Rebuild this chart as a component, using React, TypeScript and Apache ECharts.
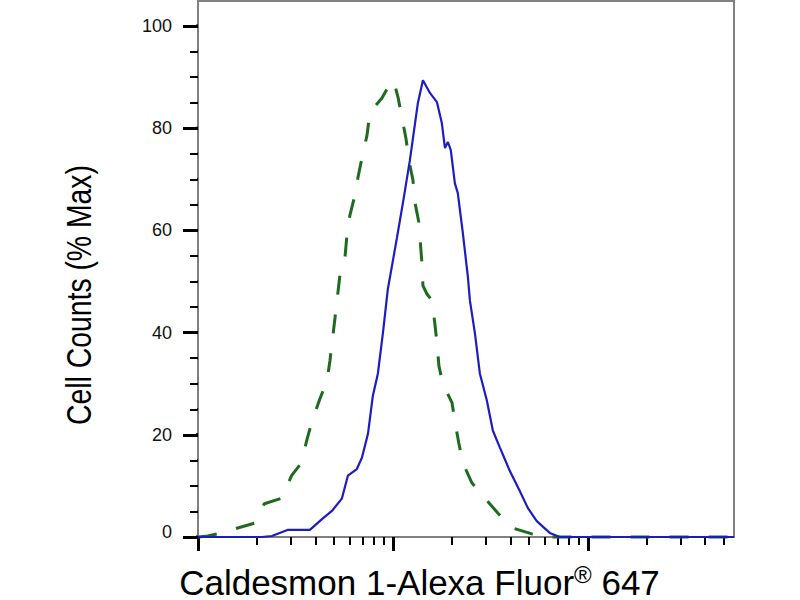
import { useEffect, useRef } from 'react';
import * as echarts from 'echarts';

// x positions are in decades (log10 of intensity), y is % of max
const greenLogX = [0, 0.05, 0.1, 0.19, 0.29, 0.34, 0.43, 0.48, 0.53, 0.56, 0.585, 0.626, 0.662, 0.677, 0.703, 0.728, 0.754, 0.764, 0.779, 0.805, 0.821, 0.846, 0.867, 0.882, 0.944, 0.995, 1.01, 1.026, 1.067, 1.082, 1.103, 1.113, 1.133, 1.149, 1.154, 1.174, 1.2, 1.215, 1.226, 1.236, 1.256, 1.303, 1.318, 1.338, 1.359, 1.405, 1.472, 1.538, 1.61, 1.713, 1.79, 2.75];
const greenCount = [0, 0.2, 0.6, 1.6, 2.7, 6.5, 7.6, 12.0, 14.5, 19.2, 22.7, 27.1, 30.6, 34.5, 42.9, 51.2, 54.7, 59.0, 62.9, 66.9, 70.4, 75.1, 78.6, 83.1, 85.9, 89.4, 88.4, 86.1, 78.0, 73.7, 69.8, 65.5, 61.6, 53.5, 49.2, 47.6, 46.3, 41.8, 38.0, 33.5, 30.0, 26.3, 22.7, 18.4, 14.5, 10.6, 7.6, 4.7, 1.8, 0.6, 0, 0];

const blueLogX = [0, 0.328, 0.379, 0.462, 0.574, 0.636, 0.687, 0.738, 0.769, 0.815, 0.841, 0.872, 0.897, 0.923, 0.949, 0.974, 1.021, 1.051, 1.087, 1.128, 1.154, 1.19, 1.226, 1.251, 1.267, 1.282, 1.297, 1.318, 1.333, 1.359, 1.385, 1.395, 1.421, 1.446, 1.482, 1.513, 1.549, 1.6, 1.651, 1.692, 1.738, 1.805, 1.856, 2.75];
const blueCount = [0, 0, 0.2, 1.4, 1.4, 3.5, 5.1, 7.5, 12.0, 13.3, 15.5, 20.2, 27.6, 32.0, 40.0, 48.5, 58.6, 65.3, 73.7, 84.9, 89.4, 86.9, 85.1, 81.0, 76.1, 77.3, 75.7, 69.2, 67.3, 59.4, 50.8, 46.3, 39.8, 32.0, 26.7, 20.8, 17.5, 12.9, 9.0, 5.7, 3.1, 0.8, 0, 0];

// tick marks: x as intensity, y as % max
const xMajorTicks = [1, 10, 100];
const xMinorTicks = [2, 3, 4, 5, 6, 7, 8, 9, 20, 30, 40, 50, 60, 70, 80, 90, 200, 300, 400, 500];
const yMajorTicks = [0, 20, 40, 60, 80, 100];
const yMinorTicks = [5, 10, 15, 25, 30, 35, 45, 50, 55, 65, 70, 75, 85, 90, 95];

const FONT = 'Liberation Sans';
const AXIS_GRAY = '#808080';

export default function App() {
  const chartRef = useRef<HTMLDivElement>(null);

  useEffect(() => {
    if (!chartRef.current) return;
    const myChart = echarts.init(chartRef.current, null, { renderer: 'svg' });

    const xMin = 0;
    const xMax = 2.75;
    const plotWidth = 536;
    const pxToDecades = (px: number) => (px * (xMax - xMin)) / plotWidth;

    const baseX = {
      type: 'value',
      min: xMin,
      max: xMax,
      position: 'bottom',
      splitLine: { show: false },
      axisLabel: { show: false },
    };

    // y tick marks as short line pieces left of the axis, broken by '-'
    const yTickSeries = (values: number[], lenPx: number, width: number) => ({
      type: 'line',
      silent: true,
      clip: false,
      showSymbol: false,
      connectNulls: false,
      z: 10,
      lineStyle: { color: '#000', width, cap: 'butt' },
      data: values.flatMap((v) => [
        [xMin - pxToDecades(lenPx), v],
        [xMin, v],
        ['-', '-'],
      ]),
    });

    const option = {
      animation: false,
      backgroundColor: '#fff',
      grid: {
        left: 198,
        right: 66,
        top: 26,
        bottom: 63,
        outerBoundsMode: 'none',
      },
      xAxis: [
        {
          ...baseX,
          axisLine: { lineStyle: { color: AXIS_GRAY, width: 2 } },
          axisTick: {
            customValues: xMajorTicks.map((v) => Math.log10(v)),
            length: 14,
            lineStyle: { color: '#000', width: 3 },
          },
          name: '{t|Caldesmon 1-Alexa Fluor}{s|®}{t| 647}',
          nameLocation: 'middle',
          nameGap: 25,
          nameTextStyle: {
            padding: [0, 93, 0, 0],
            rich: {
              t: { fontSize: 35, fontFamily: FONT, color: '#000', lineHeight: 40 },
              s: { fontSize: 24, fontFamily: FONT, color: '#000', lineHeight: 32, verticalAlign: 'top' },
            },
          },
        },
        {
          ...baseX,
          axisLine: { show: false },
          axisTick: {
            customValues: xMinorTicks.map((v) => Math.log10(v)),
            length: 8,
            lineStyle: { color: '#000', width: 2 },
          },
        },
      ],
      yAxis: {
        type: 'value',
        min: 0,
        max: 100,
        interval: 20,
        splitLine: { show: false },
        axisLine: { show: true, lineStyle: { color: AXIS_GRAY, width: 2 } },
        axisTick: { show: true, length: 15, lineStyle: { color: '#000', width: 3 } },
        minorTick: { show: true, splitNumber: 4, length: 8, lineStyle: { color: '#000', width: 2 } },
        axisLabel: {
          margin: 26,
          fontSize: 18,
          fontFamily: FONT,
          color: '#111',
          formatter: (v: number) => (v === 0 ? '{z|0}' : String(v)),
          rich: {
            z: { fontSize: 18, fontFamily: FONT, color: '#111', padding: [0, 0, 10, 0] },
          },
        },
      },
      graphic: [
        {
          type: 'rect',
          silent: true,
          shape: { x: 198, y: 1, width: 536, height: 536 },
          style: { fill: 'none', stroke: AXIS_GRAY, lineWidth: 2 },
        },
        {
          type: 'text',
          x: 79,
          y: 295,
          rotation: Math.PI / 2,
          scaleX: 0.81,
          style: {
            text: 'Cell Counts (% Max)',
            fontSize: 35,
            fontFamily: FONT,
            fill: '#000',
            align: 'center',
            verticalAlign: 'middle',
          },
        },
      ],
      series: [
        yTickSeries(yMajorTicks, 15, 3),
        yTickSeries(yMinorTicks, 8, 2),
        {
          type: 'line',
          name: 'Isotype',
          data: greenLogX.map((x, i) => [x, greenCount[i]]),
          showSymbol: false,
          clip: false,
          lineStyle: { color: '#1e6b1e', width: 3, type: [19, 20] },
        },
        {
          type: 'line',
          name: 'Caldesmon 1',
          data: blueLogX.map((x, i) => [x, blueCount[i]]),
          showSymbol: false,
          clip: false,
          lineStyle: { color: '#1c1cc4', width: 2.2 },
        },
      ],
    };

    myChart.setOption(option);

    const handleResize = () => myChart.resize();
    window.addEventListener('resize', handleResize);

    return () => {
      window.removeEventListener('resize', handleResize);
      myChart.dispose();
    };
  }, []);

  return (
    <div
      ref={chartRef}
      style={{ position: 'fixed', left: 0, top: 0, width: 800, height: 600 }}
    />
  );
}
